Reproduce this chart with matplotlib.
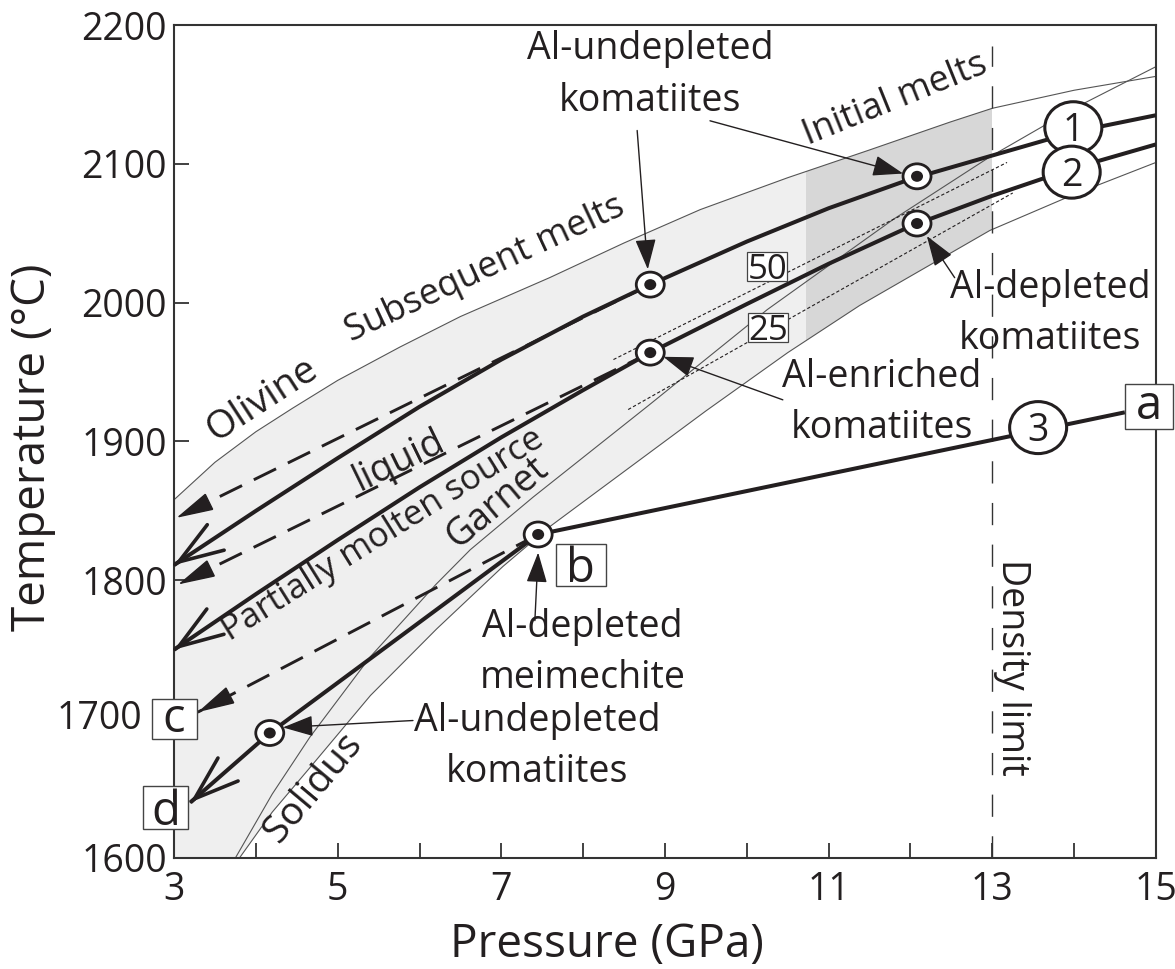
import matplotlib
matplotlib.use("Agg")
import matplotlib.pyplot as plt
from matplotlib.patches import Ellipse, Rectangle, Polygon
from matplotlib.transforms import ScaledTranslation

plt.rcParams["font.family"] = ["Open Sans", "DejaVu Sans"]

INK = "#231f20"
THIN = "#555555"

# ---- values: pressure (GPa), temperature (degC) ----
olivine_P = [3, 3.5, 4, 4.45, 5, 5.76, 6.5, 7.59, 8.5, 9.43, 10.5, 11.5, 12.48, 13, 14, 15]
olivine_T = [1858, 1885, 1907, 1924, 1944, 1968, 1990, 2018, 2043, 2067, 2090, 2110, 2130, 2140, 2153, 2163]
garnet_P = [3.8, 4.2, 4.66, 5.4, 6.21, 7.02, 7.6, 8.08, 9.5, 10.5, 11.38, 12.97, 14, 15]
garnet_T = [1600, 1633, 1665, 1717, 1765, 1810, 1839, 1860, 1922, 1964, 1998, 2052, 2078, 2101]
solidus_P = [3.75, 4.2, 4.66, 5.4, 6.2, 6.62, 7.39, 8.8, 10.25, 11.79, 12.97, 14, 15]
solidus_T = [1600, 1646, 1687, 1745, 1797, 1822, 1860, 1926, 1995, 2060, 2105, 2140, 2170]

# melting paths of the source (high P -> low P)
path1_P = [15, 14, 13, 12, 11, 10, 8.82, 8, 7, 6, 5, 4, 3]
path1_T = [2135, 2123, 2106, 2089, 2068, 2044, 2013, 1990, 1959, 1925, 1888, 1850, 1811]
path2_P = [15, 14, 13, 12, 11, 10, 8.82, 8, 7, 6, 5, 4, 3]
path2_T = [2114, 2097, 2077, 2055, 2028, 1999, 1964, 1937, 1903, 1867, 1829, 1790, 1750]
path3_P = [14.62, 7.45]
path3_T = [1921, 1833]
path_bd_P = [7.45, 4.17, 3.2]
path_bd_T = [1833, 1690, 1640]

# liquid paths (dashed)
liq1_P = [8.82, 3.03]
liq1_T = [2013, 1845]
liq2_P = [8.82, 3.05]
liq2_T = [1964, 1797]
liq_bc_P = [7.45, 3.29]
liq_bc_T = [1833, 1705]

# melt fraction isopleths (%)
iso_labels = ["50", "25"]
iso_P = [[8.37, 13.18], [8.55, 13.25]]
iso_T = [[1959, 2101], [1923, 2079]]
iso_label_P = [10.25, 10.26]
iso_label_T = [2026, 1982]

# erupted melts
sample_P = [12.08, 8.82, 12.08, 8.82, 7.45, 4.17]
sample_T = [2091, 2013, 2057, 1964, 1833, 1690]

path_labels = ["1", "2", "3"]
path_label_P = [13.99, 13.97, 13.56]
path_label_T = [2126, 2094, 1910]

point_labels = ["a", "b", "c", "d"]
point_label_P = [14.92, 7.97, 3.0, 2.9]
point_label_T = [1925, 1811, 1700, 1636]

density_limit = 13.0
initial_melt_from = 10.72

x_ticks = list(range(3, 16))
y_ticks = list(range(1600, 2201, 100))

fig = plt.figure(figsize=(11.75, 9.69), dpi=100)
ax = fig.add_axes([0.1481, 0.1146, 0.8357, 0.8596])
ax.set_xlim(3, 15)
ax.set_ylim(1600, 2200)


def at_point(x, y):
    # inches -> pixels, anchored at a data point
    return fig.dpi_scale_trans + ScaledTranslation(x, y, ax.transData)


def ellipse(x, y, w, h, **kw):
    ax.add_patch(Ellipse((0, 0), w / 100, h / 100, transform=at_point(x, y),
                         clip_on=False, **kw))


def box(x, y, w, h, **kw):
    ax.add_patch(Rectangle((-w / 200, -h / 200), w / 100, h / 100,
                           transform=at_point(x, y), clip_on=False, **kw))


def head(P, T, style, length, width, lw):
    # arrowhead at the last point of a line
    x0, y0 = P[-1], T[-1]
    x1, y1 = P[-2], T[-2]
    back = (x0 + 0.01 * (x1 - x0), y0 + 0.01 * (y1 - y0))
    ax.annotate("", xy=(x0, y0), xytext=back,
                arrowprops=dict(arrowstyle=f"{style},head_length={length},head_width={width}",
                                lw=lw, color=INK, mutation_scale=1,
                                shrinkA=0, shrinkB=0, joinstyle="miter"),
                zorder=5)


# shaded band: olivine on the liquidus, garnet below
band = list(zip(olivine_P, olivine_T)) + list(zip(garnet_P[::-1], garnet_T[::-1])) + [(3, 1600)]
light = Polygon(band, closed=True, fc="#efefef", ec="none", zorder=1)
ax.add_patch(light)
light.set_clip_path(Rectangle((3, 1600), density_limit - 3, 600, transform=ax.transData))
dark = Polygon(band, closed=True, fc="#d7d7d7", ec="none", zorder=1.1)
ax.add_patch(dark)
dark.set_clip_path(Rectangle((initial_melt_from, 1600), density_limit - initial_melt_from, 600,
                             transform=ax.transData))

for P, T in [(olivine_P, olivine_T), (garnet_P, garnet_T), (solidus_P, solidus_T)]:
    ax.plot(P, T, color=THIN, lw=0.8, zorder=2)

ax.plot([density_limit, density_limit], [1600, 2185], color="#333333", lw=1.0,
        linestyle=(0, (16, 14)), zorder=2, clip_on=False)

for P, T in zip(iso_P, iso_T):
    ax.plot(P, T, color=INK, lw=0.8, linestyle=(0, (3, 2)), zorder=3)
for s, x, y in zip(iso_labels, iso_label_P, iso_label_T):
    box(x, y, 40, 29, fc="white", ec="#444444", lw=0.9, zorder=3.5)
    ax.text(0, -0.125, s, transform=at_point(x, y), ha="center", va="baseline",
            fontsize=25, color=INK, zorder=3.6)

# thick paths
for P, T in [(path1_P, path1_T), (path2_P, path2_T), (path3_P, path3_T), (path_bd_P, path_bd_T)]:
    ax.plot(P, T, color=INK, lw=2.9, zorder=4, solid_capstyle="butt")
for P, T in [(liq1_P, liq1_T), (liq2_P, liq2_T), (liq_bc_P, liq_bc_T)]:
    ax.plot(P, T, color=INK, lw=2.1, linestyle=(0, (8.5, 4.5)), zorder=4)

for P, T in [(path1_P, path1_T), (path2_P, path2_T), (path_bd_P, path_bd_T)]:
    head(P, T, "->", 32, 11, 2.6)
for P, T in [(liq1_P, liq1_T), (liq2_P, liq2_T), (liq_bc_P, liq_bc_T)]:
    head(P, T, "-|>", 24, 6, 1.0)

# path numbers
for s, x, y in zip(path_labels, path_label_P, path_label_T):
    ellipse(x, y, 57, 52, fc="white", ec=INK, lw=2.2, zorder=6)
    ax.text(0, -0.135, s, transform=at_point(x, y), ha="center", va="baseline",
            fontsize=27, color=INK, zorder=7)

# a-d boxes
for s, x, y in zip(point_labels, point_label_P, point_label_T):
    w, h = {"a": (48, 45), "b": (50, 42), "c": (45, 40), "d": (45, 43)}[s]
    box(x, y, w, h, fc="white", ec="#444444", lw=1.0, zorder=8)
    dy = -0.125 if s in "ac" else -0.17
    ax.text(0, dy, s, transform=at_point(x, y), ha="center", va="baseline",
            fontsize=34, color=INK, zorder=9, clip_on=False)

# erupted melts
for x, y in zip(sample_P, sample_T):
    ellipse(x, y, 28, 25, fc="white", ec=INK, lw=2.0, zorder=6)
    ellipse(x, y, 12, 11, fc=INK, ec="none", zorder=6.5)

# pointer arrows
pointer_from = [(8.66, 2124), (9.55, 2131), (12.54, 2018), (10.44, 1930), (7.41, 1771), (5.92, 1699)]
pointer_to = [(8.79, 2024), (11.91, 2093), (12.2, 2048), (8.98, 1961), (7.45, 1820), (4.33, 1694)]
for p0, p1 in zip(pointer_from, pointer_to):
    ax.annotate("", xy=p1, xytext=p0,
                arrowprops=dict(arrowstyle="-|>,head_length=19,head_width=6.5", lw=1.0,
                                color=INK, mutation_scale=1, shrinkA=0, shrinkB=0),
                zorder=5)

txt = dict(color=INK, fontsize=27, ha="center", va="center", linespacing=1.45, zorder=7)
ax.text(8.82, 2164, "Al-undepleted\nkomatiites", **txt)
ax.text(13.71, 1992, "Al-depleted\nkomatiites", **txt)
ax.text(11.65, 1928, "Al-enriched\nkomatiites", **txt)
ax.text(7.99, 1748, "Al-depleted\nmeimechite", **txt)
ax.text(7.44, 1680, "Al-undepleted\nkomatiites", **txt)

rot = dict(color=INK, ha="center", va="center", rotation_mode="anchor", zorder=7)
ax.text(11.81, 2146, "Initial melts", rotation=22, fontsize=26, **rot)
ax.text(6.80, 2024, "Subsequent melts", rotation=25, fontsize=26, **rot)
ax.text(4.075, 1930, "Olivine", rotation=33, fontsize=28, **rot)
ax.text(5.55, 1833, "Partially molten source", rotation=32, fontsize=25, **rot)
ax.text(6.95, 1856, "Garnet", rotation=40, fontsize=27, **rot)
ax.text(4.70, 1651, "Solidus", rotation=50, fontsize=28, **rot)
ax.text(13.24, 1737, "Density limit", rotation=-90, fontsize=27, **rot)
ax.text(5.80, 1880, "liquid", rotation=26, color=INK, fontsize=27, ha="center",
        va="baseline", rotation_mode="anchor", zorder=7)

# axes
for s in ax.spines.values():
    s.set_linewidth(1.5)
    s.set_color("#333333")
ax.set_xticks(x_ticks)
ax.set_xticklabels([str(p) if p % 2 else "" for p in x_ticks])
ax.set_yticks(y_ticks)
ax.set_yticklabels(["" if t == 1700 else str(t) for t in y_ticks])
ax.tick_params(direction="in", length=11, width=1.3, labelsize=27, colors="#333333",
               labelcolor=INK)
ax.tick_params(axis="x", pad=9.5)
ax.tick_params(axis="y", pad=5)
ax.text(-0.0326, 1700, "1700", transform=ax.get_yaxis_transform(), ha="right",
        va="center", fontsize=27, color=INK)

fig.text(607 / 1175, 1 - 945 / 969, "Pressure (GPa)", ha="center", va="center",
         fontsize=33, color=INK)
fig.text(33 / 1175, 1 - 447 / 969, "Temperature (\u00b0C)", ha="center", va="center",
         rotation=90, fontsize=33, color=INK)

fig.savefig("out.png", dpi=100)
